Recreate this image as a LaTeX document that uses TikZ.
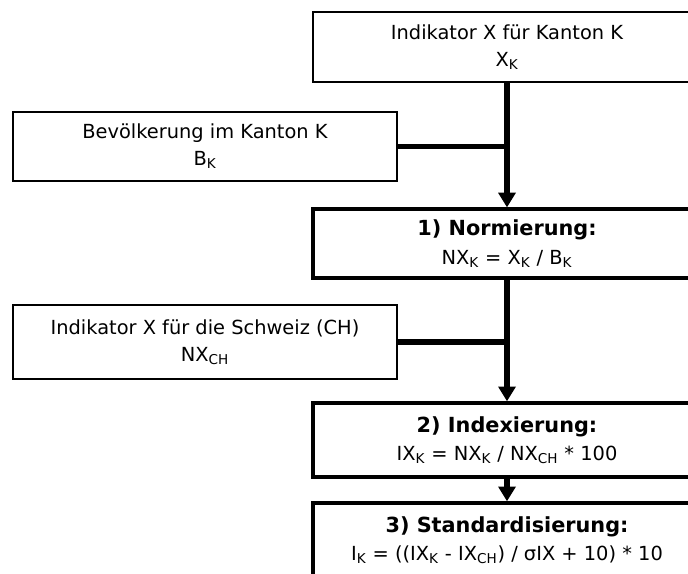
\documentclass[tikz,border=0pt]{standalone}
\usepackage{fontspec}
\setmainfont{DejaVu Sans}
\usepackage{tikz}
\usetikzlibrary{arrows.meta, positioning}

\newcommand{\steptitle}[1]{{\fontsize{14.8}{20}\selectfont\bfseries #1}}

\begin{document}
\begin{tikzpicture}[
    inbox/.style={draw, line width=1pt, rectangle, minimum width=9.6cm, align=center,
        font=\fontsize{13.8}{19}\selectfont},
    stepbox/.style={draw, line width=2.4pt, rectangle, minimum width=9.7cm, align=center,
        font=\fontsize{13.8}{20}\selectfont},
    flow/.style={line width=3.6pt, -{Triangle[width=12pt,length=10.5pt]}},
    feed/.style={line width=3.6pt}
]
    \useasboundingbox (0,0) rectangle (17.2,-14.35);
    \clip (0,0) rectangle (17.2,-14.35);

    % Input boxes
    \node[inbox, minimum width=9.7cm, minimum height=1.75cm] (xk) at (12.675,-1.175)
        {Indikator X für Kanton K\\X\textsubscript{K}};
    \node[inbox, minimum height=1.725cm] (bk) at (5.125,-3.66)
        {Bevölkerung im Kanton K\\B\textsubscript{K}};
    \node[inbox, minimum height=1.85cm] (nxch) at (5.125,-8.55)
        {Indikator X für die Schweiz (CH)\\NX\textsubscript{CH}};

    % Steps
    \node[stepbox, minimum height=1.725cm] (norm) at (12.675,-6.09)
        {\steptitle{1) Normierung:}\\NX\textsubscript{K} = X\textsubscript{K} / B\textsubscript{K}};
    \node[stepbox, minimum height=1.85cm] (index) at (12.675,-11.0)
        {\steptitle{2) Indexierung:}\\IX\textsubscript{K} = NX\textsubscript{K} / NX\textsubscript{CH} * 100};
    \node[stepbox, minimum height=1.85cm] (stand) at (12.675,-13.5)
        {\steptitle{3) Standardisierung:}\\I\textsubscript{K} = ((IX\textsubscript{K} - IX\textsubscript{CH}) / σIX + 10) * 10};

    % Connectors
    \draw[flow] (xk) -- (norm);
    \draw[feed] (bk.east) -- (bk.east -| xk.south);
    \draw[flow] (norm) -- (index);
    \draw[feed] (nxch.east) -- (nxch.east -| norm.south);
    \draw[flow] (index) -- (stand);

\end{tikzpicture}
\end{document}
